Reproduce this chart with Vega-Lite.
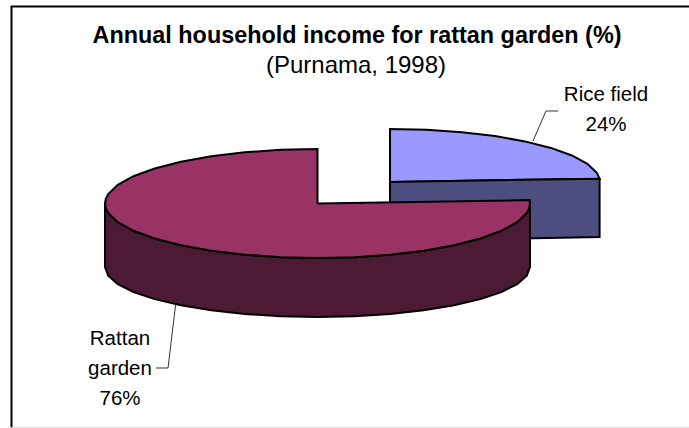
{
  "$schema": "https://vega.github.io/schema/vega-lite/v6.json",
  "width": 689,
  "height": 428,
  "autosize": {"type": "none"},
  "padding": 0,
  "background": "white",
  "view": {"stroke": null},
  "datasets": {
    "riceTop": [
      {"x": 34.12, "y": 10.12}, {"x": 34.12, "y": 35.06}, {"x": 51.28, "y": 34.68}, {"x": 67.92, "y": 33.56},
      {"x": 83.53, "y": 31.72}, {"x": 97.64, "y": 29.22}, {"x": 109.82, "y": 26.15}, {"x": 119.7, "y": 22.59},
      {"x": 126.98, "y": 18.65}, {"x": 131.44, "y": 14.45}, {"x": 132.74, "y": 11.69}, {"x": 34.12, "y": 10.12}
    ],
    "riceSide": [
      {"x": 34.12, "y": 10.12}, {"x": 132.74, "y": 11.69}, {"x": 132.74, "y": -15.76}, {"x": 34.12, "y": -17.65}, {"x": 34.12, "y": 10.12}
    ],
    "rattanSide": [
      {"x": 100, "y": 0}, {"x": 98.48, "y": -4.45}, {"x": 93.97, "y": -8.77}, {"x": 86.6, "y": -12.83},
      {"x": 76.6, "y": -16.49}, {"x": 64.28, "y": -19.65}, {"x": 50, "y": -22.21}, {"x": 34.2, "y": -24.1},
      {"x": 17.36, "y": -25.26}, {"x": 0, "y": -25.65}, {"x": -17.36, "y": -25.26}, {"x": -34.2, "y": -24.1},
      {"x": -50, "y": -22.21}, {"x": -64.28, "y": -19.65}, {"x": -76.6, "y": -16.49}, {"x": -86.6, "y": -12.83},
      {"x": -93.97, "y": -8.77}, {"x": -98.48, "y": -4.45}, {"x": -100, "y": 0},
      {"x": -100, "y": -29.88}, {"x": -98.48, "y": -33.97}, {"x": -93.97, "y": -37.93}, {"x": -86.6, "y": -41.65},
      {"x": -76.6, "y": -45}, {"x": -64.28, "y": -47.9}, {"x": -50, "y": -50.26}, {"x": -34.2, "y": -51.99},
      {"x": -17.36, "y": -53.05}, {"x": 0, "y": -53.41}, {"x": 17.36, "y": -53.05}, {"x": 34.2, "y": -51.99},
      {"x": 50, "y": -50.26}, {"x": 64.28, "y": -47.9}, {"x": 76.6, "y": -45}, {"x": 86.6, "y": -41.65},
      {"x": 93.97, "y": -37.93}, {"x": 98.48, "y": -33.97}, {"x": 100, "y": -29.88}, {"x": 100, "y": 0}
    ],
    "rattanTop": [
      {"x": 0, "y": 0}, {"x": 99.8, "y": 1.6}, {"x": 100, "y": 0}, {"x": 99.62, "y": -2.24}, {"x": 98.48, "y": -4.45},
      {"x": 93.97, "y": -8.77}, {"x": 86.6, "y": -12.83}, {"x": 76.6, "y": -16.49}, {"x": 64.28, "y": -19.65},
      {"x": 50, "y": -22.21}, {"x": 34.2, "y": -24.1}, {"x": 17.36, "y": -25.26}, {"x": 0, "y": -25.65},
      {"x": -17.36, "y": -25.26}, {"x": -34.2, "y": -24.1}, {"x": -50, "y": -22.21}, {"x": -64.28, "y": -19.65},
      {"x": -76.6, "y": -16.49}, {"x": -86.6, "y": -12.83}, {"x": -93.97, "y": -8.77}, {"x": -98.48, "y": -4.45},
      {"x": -99.62, "y": -2.24}, {"x": -100, "y": 0}, {"x": -99.62, "y": 2.24}, {"x": -98.48, "y": 4.45},
      {"x": -93.97, "y": 8.77}, {"x": -86.6, "y": 12.83}, {"x": -76.6, "y": 16.49}, {"x": -64.28, "y": 19.65},
      {"x": -50, "y": 22.21}, {"x": -34.2, "y": 24.1}, {"x": -17.36, "y": 25.26}, {"x": 0, "y": 25.65}, {"x": 0, "y": 0}
    ],
    "riceLeader": [{"x": 101.41, "y": 29.41}, {"x": 107.53, "y": 43.53}, {"x": 113.18, "y": 43.53}],
    "rattanLeader": [{"x": -66.73, "y": -47.29}, {"x": -70.35, "y": -77.41}, {"x": -76, "y": -77.41}],
    "frame": [{"x": 174.82, "y": 92.7}, {"x": -144, "y": 92.7}, {"x": -144, "y": -105.3}],
    "frameFoot": [{"x": -144, "y": -105.3}, {"x": 174.82, "y": -105.3}]
  },
  "encoding": {
    "x": {"field": "x", "type": "quantitative", "axis": null, "scale": {"domain": [-149.41, 174.82], "nice": false, "zero": false}},
    "y": {"field": "y", "type": "quantitative", "axis": null, "scale": {"domain": [-105.65, 95.76], "nice": false, "zero": false}},
    "order": {"value": null}
  },
  "layer": [
    {"data": {"name": "frameFoot"}, "mark": {"type": "line", "stroke": "#dcdcdc", "strokeWidth": 1.2}},
    {"data": {"name": "frame"}, "mark": {"type": "line", "stroke": "#000000", "strokeWidth": 2}},
    {"data": {"name": "riceTop"}, "mark": {"type": "line", "fill": "#9999ff", "stroke": "#000000", "strokeWidth": 2}},
    {"data": {"name": "riceSide"}, "mark": {"type": "line", "fill": "#4d4d80", "stroke": "#000000", "strokeWidth": 2}},
    {"data": {"name": "rattanSide"}, "mark": {"type": "line", "fill": "#4d1a33", "stroke": "#000000", "strokeWidth": 2}},
    {"data": {"name": "rattanTop"}, "mark": {"type": "line", "fill": "#993366", "stroke": "#000000", "strokeWidth": 2}},
    {"data": {"name": "riceLeader"}, "mark": {"type": "line", "stroke": "#333333", "strokeWidth": 1}},
    {"data": {"name": "rattanLeader"}, "mark": {"type": "line", "stroke": "#333333", "strokeWidth": 1}},
    {
      "data": {"values": [
        {"x": 18.59, "y": 75.67, "label": "Annual household income for rattan garden (%)"}
      ]},
      "mark": {"type": "text", "font": "Liberation Sans", "fontSize": 23.4, "fontWeight": "bold", "align": "center", "baseline": "alphabetic", "color": "#000000"},
      "encoding": {"text": {"field": "label"}}
    },
    {
      "data": {"values": [
        {"x": 18.12, "y": 61.41, "label": "(Purnama, 1998)"}
      ]},
      "mark": {"type": "text", "font": "Liberation Sans", "fontSize": 24, "align": "center", "baseline": "alphabetic", "color": "#000000"},
      "encoding": {"text": {"field": "label"}}
    },
    {
      "data": {"values": [
        {"x": 135.76, "y": 48.24, "label": "Rice field"},
        {"x": 135.76, "y": 34.12, "label": "24%"},
        {"x": -92.94, "y": -66.59, "label": "Rattan"},
        {"x": -92.94, "y": -80.71, "label": "garden"},
        {"x": -92.94, "y": -94.82, "label": "76%"}
      ]},
      "mark": {"type": "text", "font": "Liberation Sans", "fontSize": 20.5, "align": "center", "baseline": "alphabetic", "color": "#000000"},
      "encoding": {"text": {"field": "label"}}
    }
  ]
}
